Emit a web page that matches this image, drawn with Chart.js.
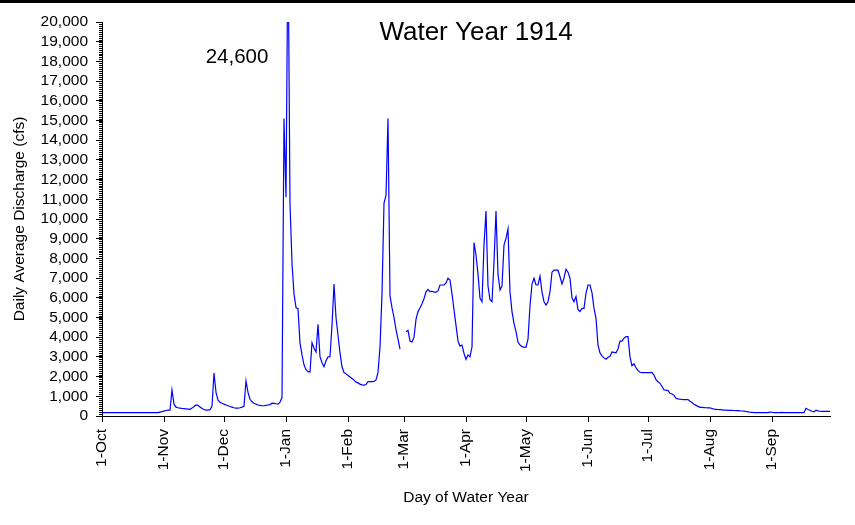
<!DOCTYPE html>
<html>
<head>
<meta charset="utf-8">
<script src="https://cdn.jsdelivr.net/npm/chart.js@4.4.1/dist/chart.umd.min.js"></script>
<style>
  html, body { margin: 0; padding: 0; background: #ffffff; }
  #wrap { width: 855px; height: 525px; position: relative; }
</style>
</head>
<body>
<div id="wrap"><canvas id="c" width="855" height="525"></canvas></div>
<script>
// Daily average discharge (cfs), water year 1914, by month
const oct = [170,170,170,170,170,170,170,170,170,170,170,170,170,170,170,170,170,170,170,170,170,170,170,170,170,170,170,170,170,200,220];
const nov = [250,280,300,300,1320,600,450,420,400,380,370,360,350,340,400,480,560,540,460,380,330,300,300,320,500,2180,1200,800,700,650];
const dec = [600,560,520,480,450,420,400,400,420,450,500,1780,1200,850,720,650,600,560,540,520,520,540,560,580,650,640,620,600,700,950,15100];
const jan = [11100,24600,10800,7750,6200,5500,5450,3700,3100,2600,2350,2250,2230,3720,3450,3250,4650,3010,2700,2500,2800,3000,3010,4600,6700,5000,4100,3200,2500,2200,2150];
const feb = [2050,1980,1900,1820,1720,1680,1620,1580,1570,1600,1740,1740,1740,1750,1830,2200,3500,6200,10800,11200,15100,6100,5500,5000,4400,3900,3400,null];
const mar = [null,4280,4350,3800,3760,4000,4900,5300,5480,5700,5950,6300,6430,6310,6330,6290,6290,6350,6650,6650,6650,6750,6990,6900,6200,5400,4600,3800,3550,3600,3180];
const apr = [2880,3100,3000,3500,8800,8170,7200,5970,5800,8680,10400,6600,5900,5800,7800,10400,7200,6400,6600,8680,9020,9500,6300,5300,4700,4280,3750,3600,3520,3500];
const may = [3490,3900,5600,6700,6990,6650,6650,7100,6300,5800,5630,5800,6310,7300,7400,7400,7400,7070,6700,7000,7450,7300,7000,6000,5800,6060,5400,5300,5460,5460,6230];
const jun = [6650,6650,6250,5460,4960,3600,3200,3050,2950,2880,2980,3030,3250,3230,3210,3400,3800,3800,3950,4030,4030,3000,2550,2650,2450,2300,2220,2200,2200,2200];
const jul = [2200,2200,2200,2080,1850,1740,1660,1500,1320,1310,1290,1150,1120,1050,900,870,850,840,835,830,830,750,680,600,540,490,440,440,430,420,415];
const aug = [410,380,350,340,330,320,310,300,300,290,290,285,280,275,270,260,255,250,230,210,190,180,170,170,170,170,170,170,170,170,200];
const sep = [190,170,170,170,170,180,170,170,170,170,170,170,170,170,170,170,170,390,330,290,240,210,290,260,240,230,230,230,230,230];

const monthLabels = ['1-Oct','1-Nov','1-Dec','1-Jan','1-Feb','1-Mar','1-Apr','1-May','1-Jun','1-Jul','1-Aug','1-Sep'];
const monthStarts = [0,31,61,92,123,151,182,212,243,273,304,335];
const yTickValues = [0,1000,2000,3000,4000,5000,6000,7000,8000,9000,10000,11000,12000,13000,14000,15000,16000,17000,18000,19000,20000];

const chartTitle = 'Water Year 1914';
const peakLabel = '24,600';
const peakDay = 93;
const xTitle = 'Day of Water Year';
const yTitle = 'Daily Average Discharge (cfs)';

const flows = [].concat(oct, nov, dec, jan, feb, mar, apr, may, jun, jul, aug, sep);
const points = flows.map((v, i) => ({ x: i, y: v }));

const FONT = "'Liberation Sans', Arial, Helvetica, sans-serif";
Chart.defaults.font.family = FONT;
Chart.defaults.color = '#000000';

const decor = {
  id: 'decor',
  beforeDraw(chart) {
    const ctx = chart.ctx;
    ctx.save();
    ctx.fillStyle = '#ffffff';
    ctx.fillRect(0, 0, chart.width, chart.height);
    ctx.fillStyle = '#000000';
    ctx.fillRect(0, 0, chart.width, 3);
    ctx.restore();
  },
  afterDraw(chart) {
    const ctx = chart.ctx;
    const ys = chart.scales.y;
    const xs = chart.scales.x;
    const area = chart.chartArea;
    ctx.save();
    // minor ticks on the y axis
    ctx.strokeStyle = '#000000';
    ctx.lineWidth = 1;
    ctx.beginPath();
    for (let v = 0; v <= 20000; v += 100) {
      const py = Math.round(ys.getPixelForValue(v)) + 0.5;
      ctx.moveTo(area.left - 3, py);
      ctx.lineTo(area.left, py);
    }
    ctx.stroke();
    // title inside the plot
    ctx.fillStyle = '#000000';
    ctx.textAlign = 'center';
    ctx.textBaseline = 'middle';
    ctx.font = '26px ' + FONT;
    ctx.fillText(chartTitle, 476, 33);
    // peak annotation
    ctx.font = '20.5px ' + FONT;
    ctx.fillText(peakLabel, xs.getPixelForValue(peakDay) - 51, 57);
    ctx.restore();
  }
};

new Chart(document.getElementById('c'), {
  type: 'line',
  data: {
    datasets: [{
      data: points,
      borderColor: '#0000ff',
      borderWidth: 1.2,
      pointRadius: 0,
      tension: 0,
      spanGaps: false,
      fill: false
    }]
  },
  options: {
    responsive: false,
    animation: false,
    devicePixelRatio: 1,
    layout: { padding: { top: 22, right: 25, left: 0, bottom: 0 } },
    plugins: { legend: { display: false }, tooltip: { enabled: false }, title: { display: false } },
    scales: {
      x: {
        type: 'linear',
        min: 0,
        max: 364,
        afterBuildTicks(scale) { scale.ticks = monthStarts.map(v => ({ value: v })); },
        afterFit(scale) { scale.height = 109; },
        ticks: {
          autoSkip: false,
          minRotation: 90,
          maxRotation: 90,
          padding: 7,
          font: { size: 15.5 },
          color: '#000000',
          callback(value) { const i = monthStarts.indexOf(value); return i >= 0 ? monthLabels[i] : ''; }
        },
        grid: { drawOnChartArea: false, tickLength: 6, color: '#000000', tickColor: '#000000' },
        border: { color: '#000000', width: 1 },
        title: { display: true, text: xTitle, font: { size: 15.5 }, color: '#000000', padding: { top: 0, bottom: 18 } }
      },
      y: {
        min: 0,
        max: 20000,
        afterBuildTicks(scale) { scale.ticks = yTickValues.map(v => ({ value: v })); },
        afterFit(scale) { scale.width = 102; },
        ticks: {
          autoSkip: false,
          padding: 8,
          font: { size: 15.5 },
          color: '#000000',
          callback(value) { return Number(value).toLocaleString('en-US'); }
        },
        grid: { drawOnChartArea: false, tickLength: 6, color: '#000000', tickColor: '#000000' },
        border: { color: '#000000', width: 1 },
        title: { display: true, text: yTitle, font: { size: 15.5 }, color: '#000000', padding: { top: 10, bottom: 0 } }
      }
    }
  },
  plugins: [decor]
});
</script>
</body>
</html>
